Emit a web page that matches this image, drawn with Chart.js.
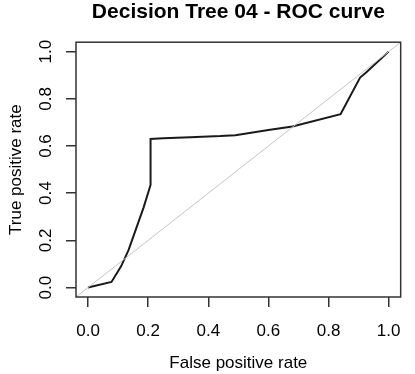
<!DOCTYPE html>
<html>
<head>
<meta charset="utf-8">
<script src="https://cdn.jsdelivr.net/npm/chart.js@4/dist/chart.umd.min.js"></script>
<style>
  html, body { margin: 0; padding: 0; background: #ffffff; }
  #wrap { width: 415px; height: 374px; }
</style>
</head>
<body>
<div id="wrap"><canvas id="c" width="415" height="374"></canvas></div>
<script>
// ---- data ----
const fpr = [0, 0.078, 0.11, 0.135, 0.16, 0.185, 0.208, 0.208, 0.25, 0.34, 0.44, 0.49, 0.60, 0.68, 0.84, 0.905, 0.925, 1.0];
const tpr = [0, 0.024, 0.09, 0.16, 0.25, 0.34, 0.435, 0.63, 0.633, 0.637, 0.642, 0.646, 0.668, 0.683, 0.735, 0.89, 0.912, 1.0];
const xTickValues = [0, 0.2, 0.4, 0.6, 0.8, 1.0];
const xTickLabels = ['0.0', '0.2', '0.4', '0.6', '0.8', '1.0'];
const yTickValues = [0, 0.2, 0.4, 0.6, 0.8, 1.0];
const yTickLabels = ['0.0', '0.2', '0.4', '0.6', '0.8', '1.0'];
const axisMin = -0.04;
const axisMax = 1.04;
const titleText = 'Decision Tree 04 - ROC curve';
const xTitle = 'False positive rate';
const yTitle = 'True positive rate';

const rocPoints = fpr.map((v, i) => ({ x: v, y: tpr[i] }));
const diagPoints = [{ x: axisMin, y: axisMin }, { x: axisMax, y: axisMax }];

const FONT = "'Liberation Sans', Arial, sans-serif";

const boxPlugin = {
  id: 'box',
  afterDatasetsDraw(chart) {
    const a = chart.chartArea;
    const ctx = chart.ctx;
    ctx.save();
    ctx.strokeStyle = '#333333';
    ctx.lineWidth = 1.5;
    ctx.strokeRect(a.left, a.top, a.right - a.left, a.bottom - a.top);
    ctx.restore();
  }
};

new Chart(document.getElementById('c'), {
  type: 'scatter',
  data: {
    datasets: [
      {
        label: 'chance',
        data: diagPoints,
        showLine: true,
        borderColor: '#c4c4c4',
        borderWidth: 1,
        pointRadius: 0,
        tension: 0
      },
      {
        label: 'ROC',
        data: rocPoints,
        showLine: true,
        borderColor: '#1a1a1a',
        borderWidth: 2,
        pointRadius: 0,
        tension: 0
      }
    ]
  },
  options: {
    responsive: false,
    animation: false,
    layout: { padding: { left: 0, right: 6, top: 0, bottom: 0 } },
    plugins: {
      legend: { display: false },
      tooltip: { enabled: false },
      title: {
        display: true,
        text: titleText,
        fullSize: false,
        color: '#000000',
        font: { family: FONT, size: 21, weight: 'bold' },
        padding: { top: 0, bottom: 17 }
      }
    },
    scales: {
      x: {
        type: 'linear',
        min: axisMin,
        max: axisMax,
        afterBuildTicks(scale) { scale.ticks = xTickValues.map(v => ({ value: v })); },
        afterFit(scale) { scale.height = 77; },
        ticks: {
          color: '#000000',
          font: { family: FONT, size: 17 },
          padding: 14,
          maxRotation: 0,
          minRotation: 0,
          callback(value) { const i = xTickValues.indexOf(value); return i >= 0 ? xTickLabels[i] : ''; }
        },
        grid: { display: true, drawOnChartArea: false, drawTicks: true, tickLength: 10, color: '#333333', lineWidth: 1.5 },
        border: { display: false },
        title: {
          display: true,
          text: xTitle,
          color: '#000000',
          font: { family: FONT, size: 17 },
          padding: { top: 0, bottom: 0 }
        }
      },
      y: {
        type: 'linear',
        min: axisMin,
        max: axisMax,
        afterBuildTicks(scale) { scale.ticks = yTickValues.map(v => ({ value: v })); },
        afterFit(scale) { scale.width = 76; },
        ticks: {
          color: '#000000',
          font: { family: FONT, size: 17 },
          padding: 8,
          minRotation: 90,
          maxRotation: 90,
          crossAlign: 'center',
          callback(value) { const i = yTickValues.indexOf(value); return i >= 0 ? yTickLabels[i] : ''; }
        },
        grid: { display: true, drawOnChartArea: false, drawTicks: true, tickLength: 10, color: '#333333', lineWidth: 1.5 },
        border: { display: false },
        title: {
          display: true,
          text: yTitle,
          color: '#000000',
          font: { family: FONT, size: 17 },
          padding: { top: 6, bottom: 0 }
        }
      }
    }
  },
  plugins: [boxPlugin]
});
</script>
</body>
</html>
